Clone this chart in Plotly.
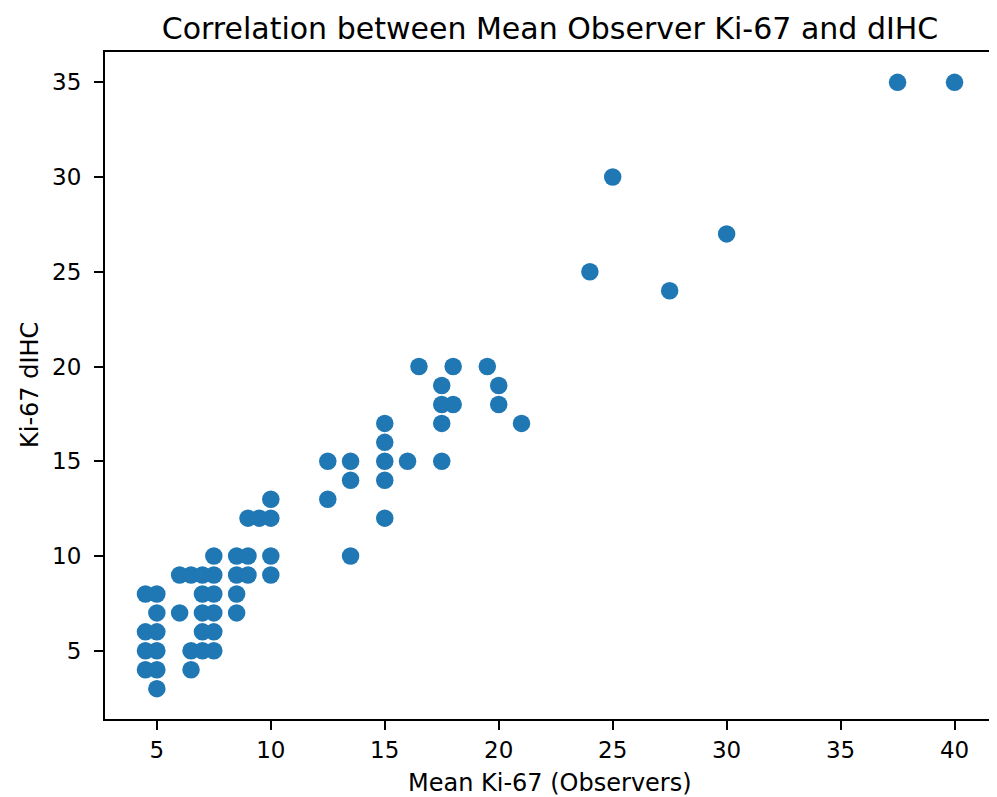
import plotly.graph_objects as go

mean_observer_ki67 = [
    4.5, 5, 5, 4.5, 5, 4.5, 5, 4.5, 5, 5,
    6, 6, 6.5, 6.5, 6.5,
    7, 7, 7, 7, 7,
    7.5, 7.5, 7.5, 7.5, 7.5, 7.5,
    8.5, 8.5, 8.5, 8.5,
    9, 9, 9, 9.5,
    10, 10, 10, 10,
    12.5, 12.5, 13.5, 13.5, 13.5,
    15, 15, 15, 15, 15, 16,
    16.5, 17.5, 17.5, 17.5, 17.5, 18, 18,
    19.5, 20, 20, 21,
    24, 25, 27.5, 30, 37.5, 40,
]
ki67_dihc = [
    8, 8, 7, 6, 6, 5, 5, 4, 4, 3,
    9, 7, 9, 5, 4,
    9, 8, 7, 6, 5,
    10, 9, 8, 7, 6, 5,
    10, 9, 8, 7,
    12, 10, 9, 12,
    13, 12, 10, 9,
    15, 13, 15, 14, 10,
    17, 16, 15, 14, 12, 15,
    20, 19, 18, 17, 15, 20, 18,
    20, 19, 18, 17,
    25, 30, 24, 27, 35, 35,
]
x_ticks = [5, 10, 15, 20, 25, 30, 35, 40]
y_ticks = [5, 10, 15, 20, 25, 30, 35]

FONT = "DejaVu Sans"
W, H = 989, 789  # page body has an 8px margin

fig = go.Figure(
    go.Scatter(
        x=mean_observer_ki67,
        y=ki67_dihc,
        mode="markers",
        marker=dict(color="#1f77b4", size=17.5, line=dict(width=0)),
        showlegend=False,
    )
)

axis_common = dict(
    showgrid=False,
    zeroline=False,
    showline=True,
    linecolor="black",
    linewidth=2,
    mirror=True,
    ticks="outside",
    ticklen=9,
    tickwidth=2,
    tickcolor="black",
    tickfont=dict(family=FONT, size=23, color="black"),
)

fig.update_layout(
    width=W,
    height=H,
    paper_bgcolor="white",
    plot_bgcolor="white",
    margin=dict(l=97, r=2, t=44, b=78, autoexpand=False),
    title=dict(
        text="Correlation between Mean Observer Ki-67 and dIHC",
        font=dict(family=FONT, size=30, color="black"),
        x=0.5,
        xref="paper",
        xanchor="center",
        yref="container",
        y=1 - 20 / H,
        yanchor="middle",
    ),
    xaxis=dict(axis_common, range=[2.725, 41.775], tickvals=x_ticks, ticklabelstandoff=0),
    yaxis=dict(axis_common, range=[1.4, 36.6], tickvals=y_ticks, ticklabelstandoff=8),
    annotations=[
        dict(
            text="Mean Ki-67 (Observers)",
            xref="paper", yref="paper", x=0.5, y=0,
            xanchor="center", yanchor="middle", yshift=-64,
            showarrow=False,
            font=dict(family=FONT, size=24, color="black"),
        ),
        dict(
            text="Ki-67 dIHC",
            xref="paper", yref="paper", x=0, y=0.5,
            xanchor="center", yanchor="middle", xshift=-75.5,
            textangle=-90,
            showarrow=False,
            font=dict(family=FONT, size=24, color="black"),
        ),
    ],
)

fig.write_html("out.html")
